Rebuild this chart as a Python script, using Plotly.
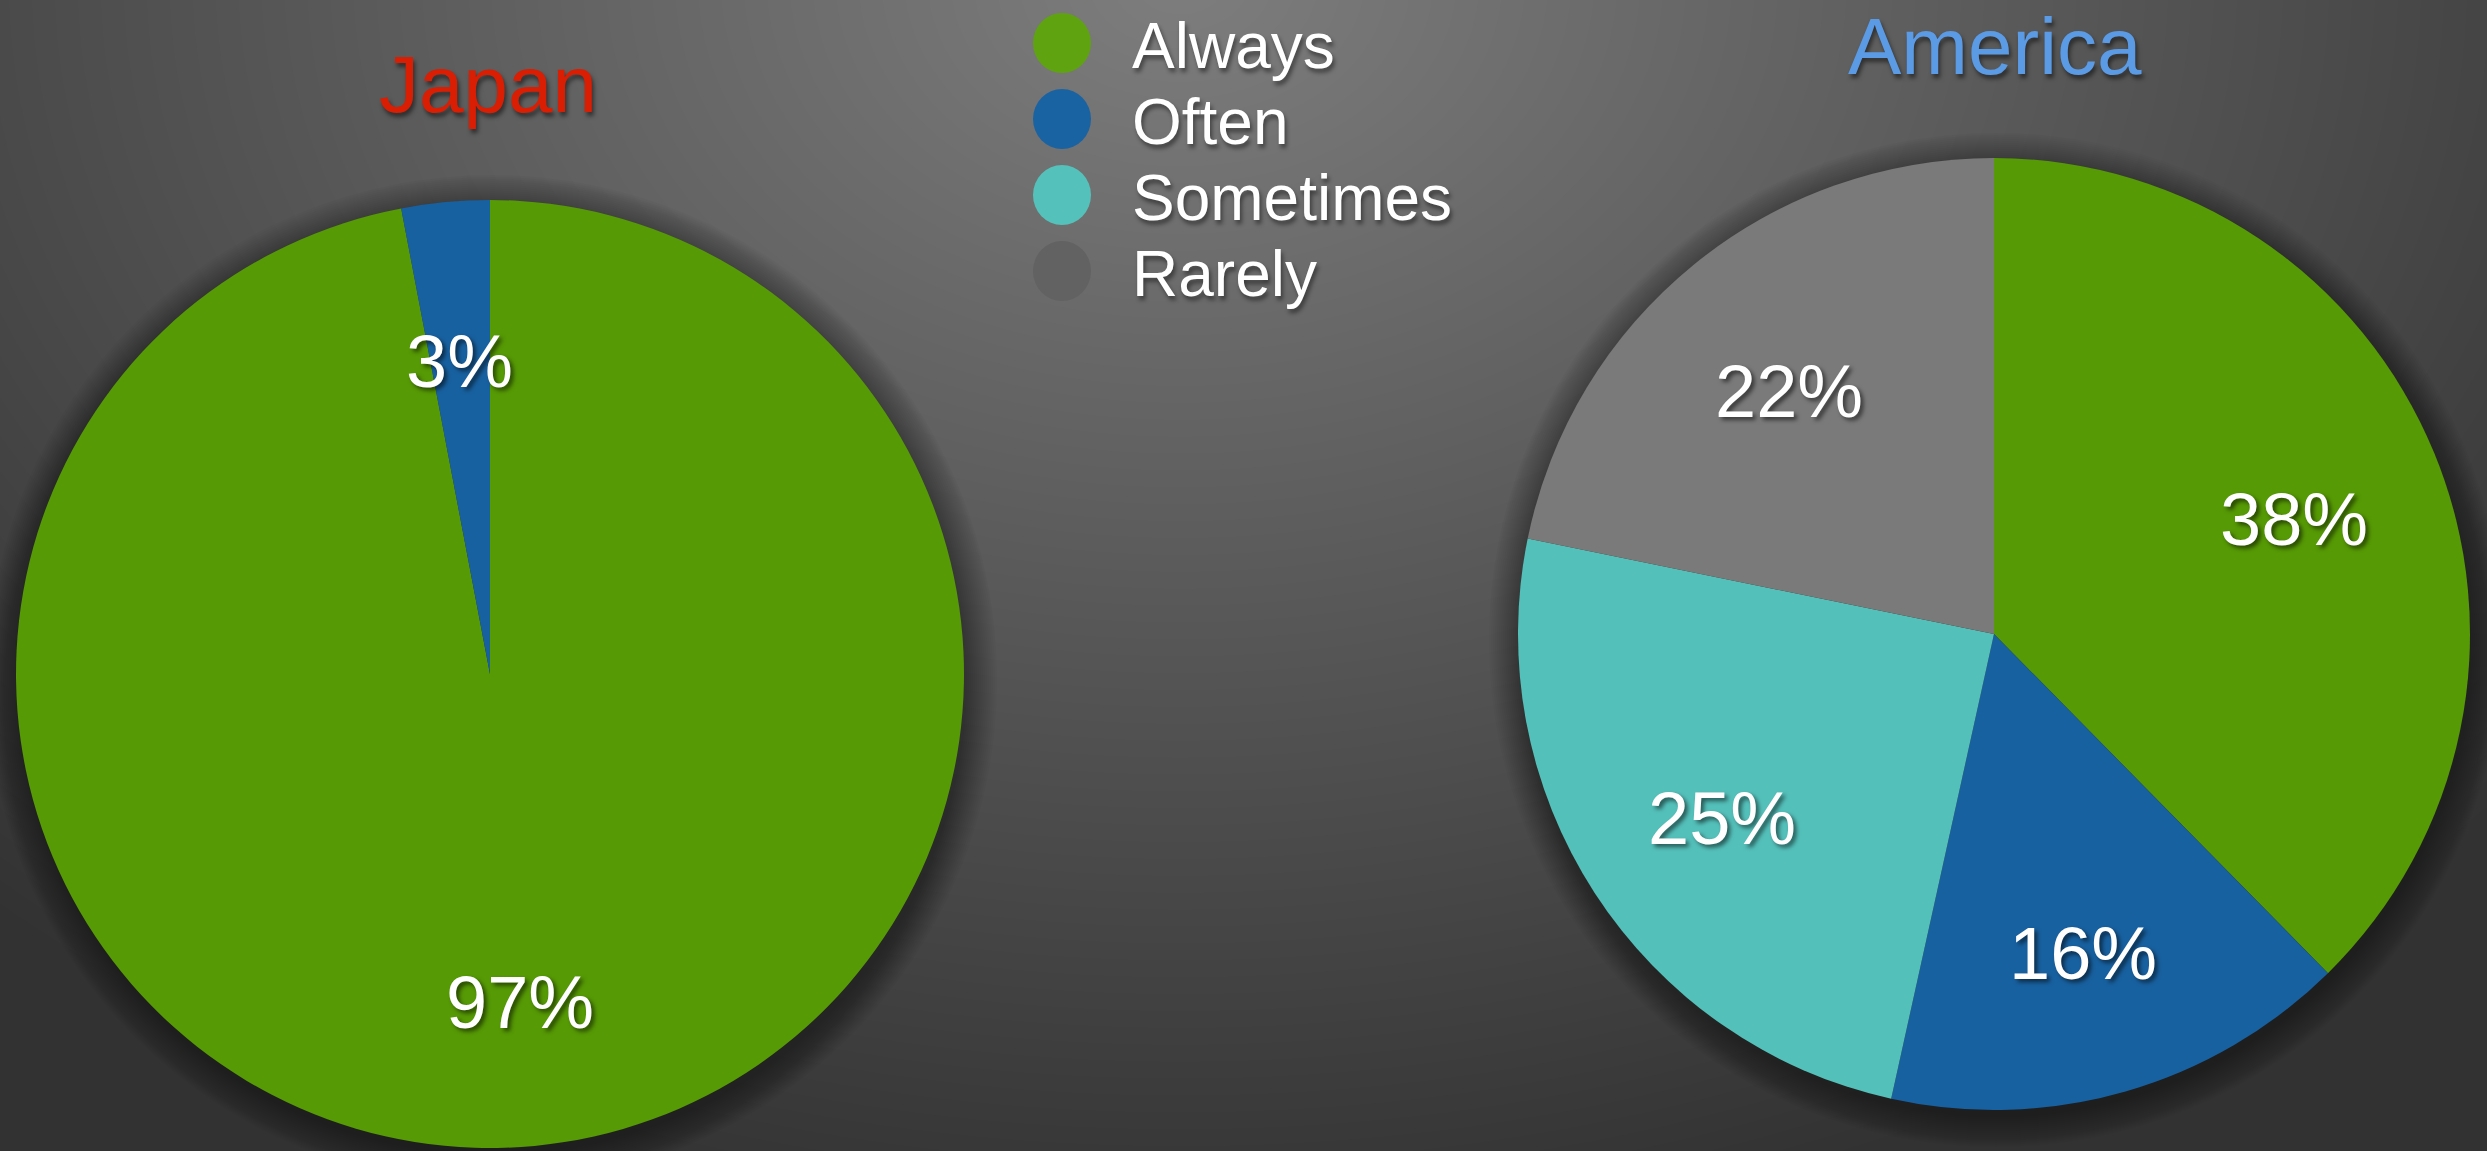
import base64
import math
import struct
import zlib

import numpy as np
import plotly.graph_objects as go

# ---- data ----
categories = ["Always", "Often", "Sometimes", "Rarely"]
japan_values = [97, 3]
america_values = [38, 16, 25, 22]
slice_colors = ["#569A05", "#1861A0", "#54C0BA", "#7A7A7A"]
legend_colors = ["#5FA310", "#1A63A3", "#55C1BB", "#626262"]

W, H = 2487, 1151
FONT = "Liberation Sans, Arial, Helvetica, sans-serif"

# pie geometry in pixels (center x, center y from top, radius)
JP = dict(cx=490, cy=674, r=474)
US = dict(cx=1994, cy=634, r=476)


def domain(g):
    return dict(
        x=[(g["cx"] - g["r"]) / W, (g["cx"] + g["r"]) / W],
        y=[(H - g["cy"] - g["r"]) / H, (H - g["cy"] + g["r"]) / H],
    )


def px(x, y):
    return x / W, 1 - y / H


# ---- radial background gradient rendered to a PNG ----
def png_uri(rgb):
    h, w, _ = rgb.shape
    raw = b"".join(b"\x00" + rgb[i].tobytes() for i in range(h))

    def chunk(tag, data):
        return (struct.pack(">I", len(data)) + tag + data
                + struct.pack(">I", zlib.crc32(tag + data) & 0xFFFFFFFF))

    png = (b"\x89PNG\r\n\x1a\n"
           + chunk(b"IHDR", struct.pack(">IIBBBBB", w, h, 8, 2, 0, 0, 0))
           + chunk(b"IDAT", zlib.compress(raw, 9))
           + chunk(b"IEND", b""))
    return "data:image/png;base64," + base64.b64encode(png).decode()


yy, xx = np.mgrid[0:H, 0:W].astype(float)
d = np.sqrt(((xx - 1180) / 1700) ** 2 + ((yy + 20) / 1250) ** 2)
level = np.clip(126 - 74 * d, 50, 140).astype(np.uint8)
bg = np.repeat(level[:, :, None], 3, axis=2)

fig = go.Figure()

fig.add_trace(go.Pie(
    labels=categories[:len(japan_values)], values=japan_values,
    marker=dict(colors=slice_colors[:len(japan_values)]),
    sort=False, direction="clockwise", rotation=0,
    textinfo="none", showlegend=False, domain=domain(JP),
))
fig.add_trace(go.Pie(
    labels=categories, values=america_values,
    marker=dict(colors=slice_colors),
    sort=False, direction="clockwise", rotation=0,
    textinfo="none", showlegend=False, domain=domain(US),
))

shapes = []
annotations = []

# soft drop shadow under each pie
for g in (JP, US):
    cxp, cyp = px(g["cx"] + 2, g["cy"] + 6)
    for k in range(16):
        rr = g["r"] + 1 + 2 * k
        shapes.append(dict(
            type="circle", layer="below", xref="paper", yref="paper",
            xsizemode="pixel", ysizemode="pixel", xanchor=cxp, yanchor=cyp,
            x0=-rr, x1=rr, y0=-rr, y1=rr,
            fillcolor="rgba(0,0,0,0.022)", line=dict(width=0),
        ))

# percentage labels at each slice's mid angle
label_shadow = "3px 3px 4px rgba(0,0,0,0.55)"
for g, vals in ((JP, japan_values), (US, america_values)):
    total = sum(vals)
    start = 0.0
    for v in vals:
        mid = (start + v / 2) / total * 2 * math.pi
        start += v
        rr = 0.68 * g["r"]
        x, y = px(g["cx"] + rr * math.sin(mid), g["cy"] - rr * math.cos(mid))
        annotations.append(dict(
            x=x, y=y, xref="paper", yref="paper", text=f"{v}%", showarrow=False,
            xanchor="center", yanchor="middle", yshift=-8,
            font=dict(family=FONT, size=74, color="white", shadow=label_shadow),
        ))

# titles
title_shadow = "2px 4px 4px rgba(0,0,0,0.5)"
for name, (tx, ty), col in (("Japan", (488, 84), "#D91E03"),
                            ("America", (1995, 46), "#5B9BE6")):
    x, y = px(tx, ty)
    annotations.append(dict(
        x=x, y=y, xref="paper", yref="paper", text=name, showarrow=False,
        xanchor="center", yanchor="middle",
        font=dict(family=FONT, size=80, color=col, shadow=title_shadow),
    ))

# legend: coloured dots with labels
for i, (cat, col) in enumerate(zip(categories, legend_colors)):
    cy = 43 + 76 * i
    xa, ya = px(1062, cy)
    shapes.append(dict(
        type="circle", layer="below", xref="paper", yref="paper",
        xsizemode="pixel", ysizemode="pixel", xanchor=xa, yanchor=ya,
        x0=-29, x1=29, y0=-30, y1=30, fillcolor=col, line=dict(width=0),
    ))
    x, y = px(1130, cy + 3)
    annotations.append(dict(
        x=x, y=y, xref="paper", yref="paper", text=cat, showarrow=False,
        xanchor="left", yanchor="middle",
        font=dict(family=FONT, size=64, color="white",
                  shadow="2px 4px 4px rgba(0,0,0,0.45)"),
    ))

fig.update_layout(
    width=W, height=H,
    margin=dict(l=0, r=0, t=0, b=0),
    paper_bgcolor="#3A3A3A", plot_bgcolor="rgba(0,0,0,0)",
    images=[dict(source=png_uri(bg), xref="paper", yref="paper", x=0, y=1,
                 sizex=1, sizey=1, xanchor="left", yanchor="top",
                 sizing="stretch", layer="below")],
    shapes=shapes, annotations=annotations,
)

fig.write_html("out.html")
